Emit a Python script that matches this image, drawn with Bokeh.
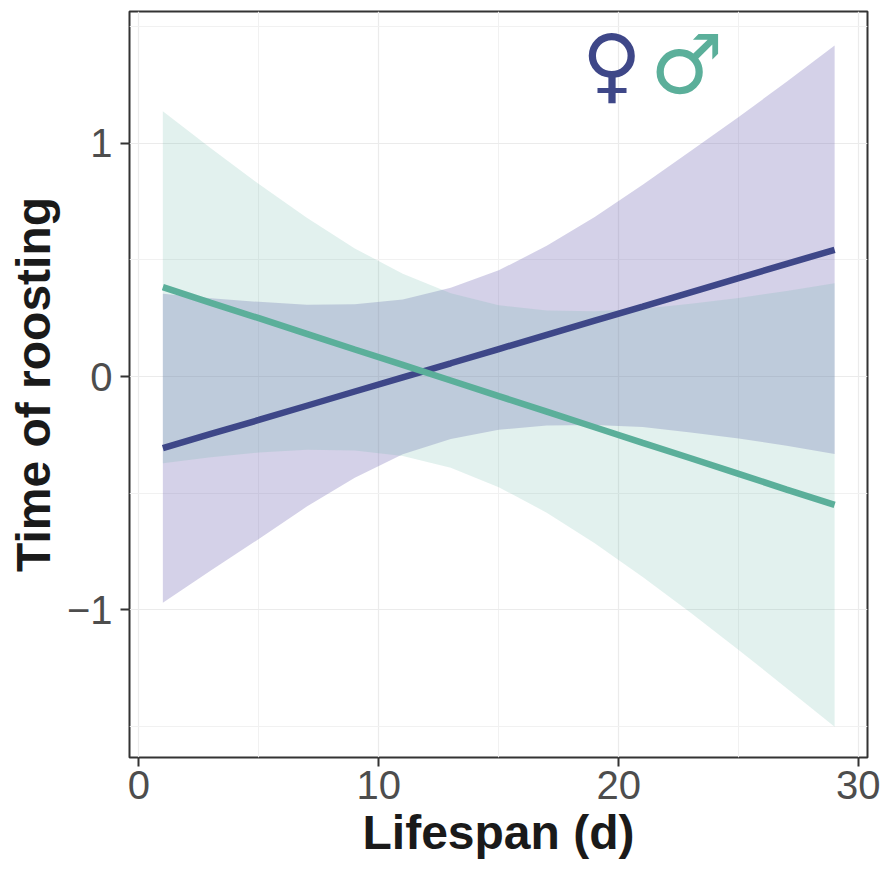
from bokeh.plotting import figure
from bokeh.models import FixedTicker, Range1d, CustomJSTickFormatter
from bokeh.core.properties import value
from bokeh.embed import file_html
from bokeh.resources import INLINE

# ---- data ----
lifespan = [1, 3, 5, 7, 9, 11, 13, 15, 17, 19, 21, 23, 25, 27, 29]

female_fit = [-0.307, -0.246, -0.186, -0.125, -0.064, -0.003, 0.057, 0.118,
              0.179, 0.240, 0.300, 0.361, 0.422, 0.483, 0.543]
female_lower = [-0.969, -0.831, -0.696, -0.557, -0.434, -0.333, -0.268, -0.228,
                -0.210, -0.207, -0.216, -0.240, -0.265, -0.296, -0.332]
female_upper = [0.355, 0.336, 0.320, 0.308, 0.310, 0.330, 0.380, 0.455,
                0.560, 0.684, 0.822, 0.966, 1.112, 1.263, 1.418]

male_fit = [0.383, 0.316, 0.250, 0.183, 0.116, 0.050, -0.017, -0.084,
            -0.150, -0.217, -0.284, -0.350, -0.417, -0.484, -0.550]
male_lower = [-0.371, -0.346, -0.325, -0.314, -0.317, -0.340, -0.391, -0.474,
              -0.583, -0.714, -0.859, -1.012, -1.171, -1.335, -1.500]
male_upper = [1.137, 0.978, 0.825, 0.680, 0.549, 0.440, 0.357, 0.306,
              0.283, 0.280, 0.291, 0.312, 0.337, 0.367, 0.400]

x_ticks = [0, 10, 20, 30]
x_minor = [5, 15, 25]
y_ticks = [-1, 0, 1]
y_minor = [-1.5, -0.5, 0.5, 1.5]

symbols = ["\u2640", "\u2642"]
symbol_x = [19.71, 22.84]
symbol_y = [1.335, 1.335]

female_col = "#3E4788"
male_col = "#5BAF9A"

p = figure(width=880, height=870, output_backend="svg", toolbar_location=None,
           x_range=Range1d(-0.39, 30.37), y_range=Range1d(-1.632, 1.564),
           min_border_left=129, min_border_right=13, min_border_top=11,
           min_border_bottom=113)
p.background_fill_color = "white"
p.border_fill_color = "white"
p.outline_line_color = "#333333"
p.outline_line_width = 2

# grids
p.xgrid.ticker = FixedTicker(ticks=x_ticks, minor_ticks=x_minor)
p.ygrid.ticker = FixedTicker(ticks=y_ticks, minor_ticks=y_minor)
for g in (p.xgrid, p.ygrid):
    g.grid_line_color = "#EBEBEB"
    g.grid_line_width = 1.2
    g.minor_grid_line_color = "#F1F1F1"
    g.minor_grid_line_width = 1

# axes
p.xaxis.ticker = FixedTicker(ticks=x_ticks, minor_ticks=x_minor)
p.yaxis.ticker = FixedTicker(ticks=y_ticks, minor_ticks=y_minor)
p.yaxis.formatter = CustomJSTickFormatter(
    code="return tick < 0 ? '\u2212' + Math.abs(tick) : tick.toString();")
for ax in (p.xaxis, p.yaxis):
    ax.axis_line_color = None
    ax.major_tick_line_color = "#333333"
    ax.major_tick_line_width = 2
    ax.major_tick_out = 9
    ax.major_tick_in = 0
    ax.minor_tick_line_color = None
    ax.major_label_text_font = "Liberation Sans"
    ax.major_label_text_font_size = "40px"
    ax.major_label_text_color = "#4D4D4D"
    ax.axis_label_text_font = "Liberation Sans"
    ax.axis_label_text_font_style = "bold"
    ax.axis_label_text_font_size = "48px"
    ax.axis_label_text_color = "#1A1A1A"
p.xaxis.axis_label = "Lifespan (d)"
p.yaxis.axis_label = "Time of roosting"
p.xaxis.major_label_standoff = 4
p.yaxis.major_label_standoff = 8
p.xaxis.axis_label_standoff = 4
p.yaxis.axis_label_standoff = 4

# ribbons
p.varea(x=lifespan, y1=female_lower, y2=female_upper,
        fill_color="#7B74B8", fill_alpha=0.33)
p.varea(x=lifespan, y1=male_lower, y2=male_upper,
        fill_color="#5DB3A0", fill_alpha=0.18)

# fitted lines
p.line(lifespan, female_fit, line_color=female_col, line_width=6.5)
p.line(lifespan, male_fit, line_color=male_col, line_width=6.5)

# sex symbols
p.text(x=symbol_x[:1], y=symbol_y[:1], text=symbols[:1], text_color=female_col,
       text_font=value("DejaVu Sans"), text_font_style="bold",
       text_font_size="82px", text_align="center", text_baseline="middle")
p.text(x=symbol_x[1:], y=symbol_y[1:], text=symbols[1:], text_color=male_col,
       text_font=value("DejaVu Sans"), text_font_style="bold",
       text_font_size="82px", text_align="center", text_baseline="middle")

open("out.html", "w").write(file_html(p, INLINE))
